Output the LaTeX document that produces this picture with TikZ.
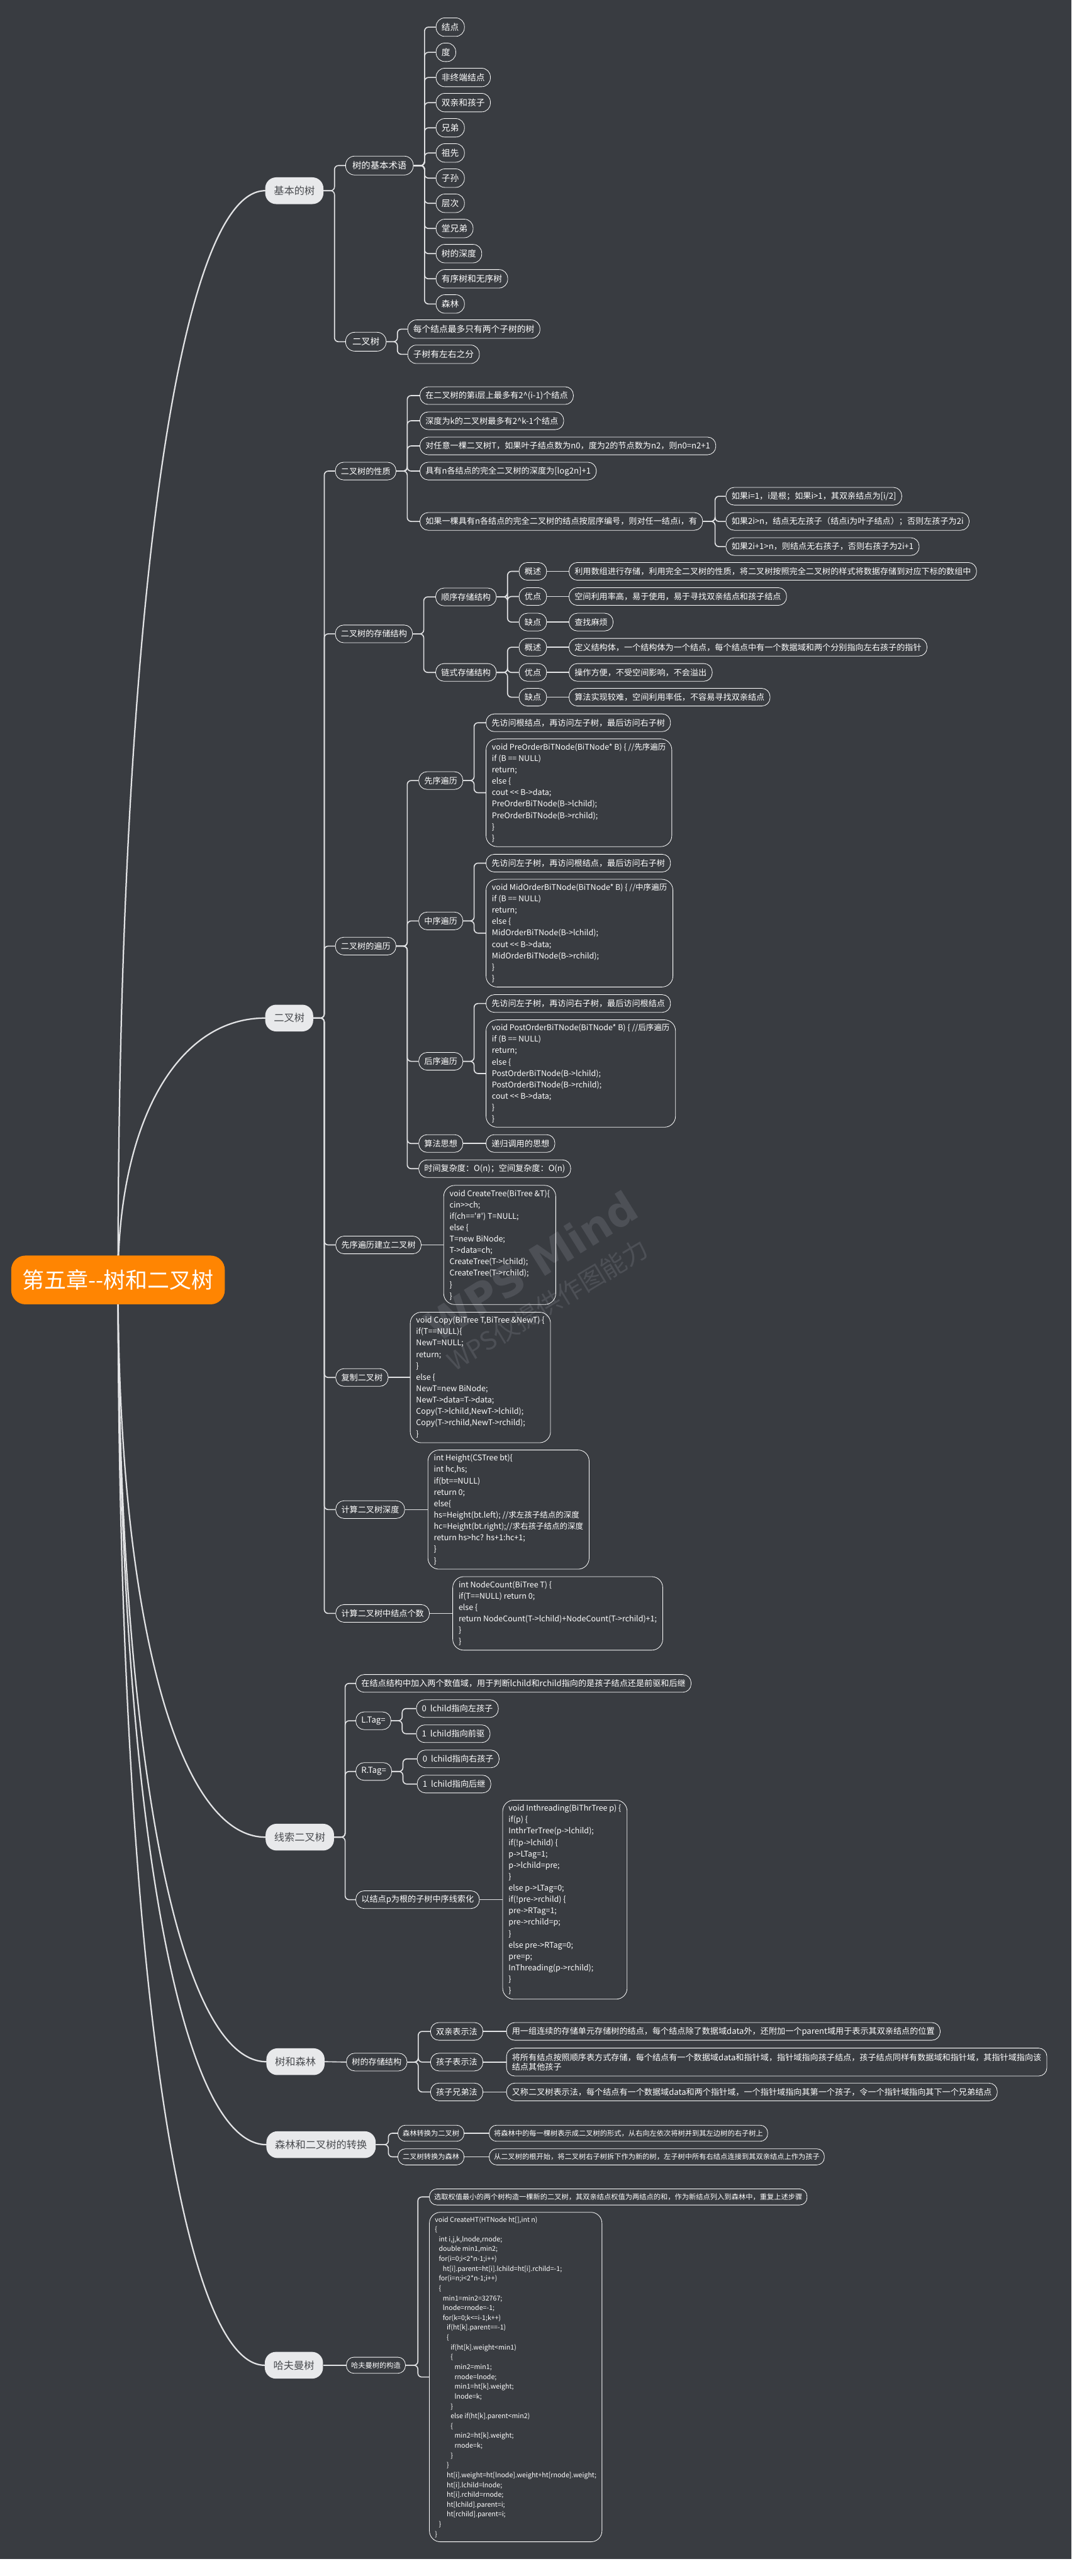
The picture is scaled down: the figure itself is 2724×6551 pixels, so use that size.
\documentclass[tikz,border=0pt]{standalone}
\usepackage{fontspec}
\usepackage{tikz}
\usetikzlibrary{calc,positioning}
\newfontfamily\mapfont{Noto Sans CJK SC}[Ligatures=TeXOff]
\newfontfamily\markfont{DejaVu Sans}[Ligatures=TeXOff]
\definecolor{mapbg}{HTML}{393C41}
\definecolor{rootorange}{HTML}{FF8502}
\definecolor{topicfill}{HTML}{E8E9EB}
\definecolor{topictext}{HTML}{4A4C50}
\definecolor{linkgray}{HTML}{E2E3E5}
\definecolor{markgray}{HTML}{4D5056}
\pgfdeclarelayer{backdrop}
\pgfdeclarelayer{edges}
\pgfsetlayers{backdrop,edges,main}
\newcommand{\mmlink}[3][28]{\draw[link] (#2.east) -- ++(#1,0) |- (#3.west);}
\newcommand{\codeindent}[1]{\hspace*{#1pt}}

\tikzset{
  rootnode/.style={fill=rootorange, text=white, rounded corners=36pt,
    font=\mapfont\fontsize{56}{64}\selectfont, inner xsep=28pt, inner ysep=0pt,
    minimum height=124pt, minimum width=508pt, anchor=center},
  topic/.style={fill=topicfill, text=topictext, rounded corners=28pt,
    font=\mapfont\fontsize{26}{30}\selectfont, inner xsep=22pt, inner ysep=0pt,
    minimum height=68pt, anchor=west},
  leaf/.style={draw=white, line width=1.3pt, text=white, rounded corners=21pt,
    font=\mapfont\fontsize{21}{25}\selectfont, inner xsep=14pt, inner ysep=0pt,
    minimum height=45pt, anchor=west},
  subtopic/.style={leaf, rounded corners=23pt,
    font=\mapfont\fontsize{23}{28}\selectfont, inner xsep=17pt, minimum height=48pt},
  termleaf/.style={leaf, rounded corners=22pt,
    font=\mapfont\fontsize{22}{26}\selectfont, minimum height=47pt},
  smallleaf/.style={leaf, rounded corners=19pt,
    font=\mapfont\fontsize{18}{22}\selectfont, inner xsep=12pt, minimum height=41pt},
  code/.style={leaf, rounded corners=28pt, align=left,
    font=\mapfont\fontsize{20}{29}\selectfont, inner xsep=15pt},
  smallcode/.style={code, font=\mapfont\fontsize{17}{25}\selectfont, inner xsep=14pt},
  link/.style={draw=linkgray, line width=2.6pt, rounded corners=10pt},
  curve/.style={draw=linkgray, line width=3.6pt, line cap=round},
}

\begin{document}
\begin{tikzpicture}[x=1pt, y=-1pt]
    \useasboundingbox (0,0) rectangle (2724,6551);
    \begin{pgfonlayer}{backdrop}
      \fill[mapbg] (0,0) rectangle (2724,6508);
      \fill[white] (0,6508) rectangle (2724,6551);
      \node[font=\markfont\bfseries\fontsize{108}{108}\selectfont, text=markgray,
        rotate=32] (wpsmark) at (1350,3220) {WPS Mind};
      \node[font=\mapfont\fontsize{64}{64}\selectfont, text=markgray,
        rotate=31] (wpsnote) at (1392,3318) {WPS仅提供作图能力};
    \end{pgfonlayer}

    \node[rootnode] (root) at (300,3255) {第五章--树和二叉树};

    \node[topic] (basic) at (674,485) {基本的树};
    \node[topic] (bintree) at (674,2589) {二叉树};
    \node[topic] (thread) at (675,4672) {线索二叉树};
    \node[topic] (forest) at (677,5243) {树和森林};
    \node[topic] (convert) at (677,5454) {森林和二叉树的转换};
    \node[topic] (huff) at (673,6015) {哈夫曼树};
    \begin{pgfonlayer}{edges}
      \foreach \topicname in {basic,bintree,thread,forest,convert,huff} {
        \draw[curve] (root.center)
          .. controls ($(root.center)!0.6!(root.center |- \topicname.west)$)
          and ($(\topicname.west)!0.6!(root.center |- \topicname.west)$)
          .. (\topicname.west);
      }
    \end{pgfonlayer}

    \node[subtopic] (terms) at (878,421) {树的基本术语};
    \node[subtopic] (btdef) at (878,869) {二叉树};
    \mmlink{basic}{terms}
    \mmlink{basic}{btdef}
    \foreach \term [count=\k from 0] in {结点,度,非终端结点,双亲和孩子,兄弟,祖先,
        子孙,层次,堂兄弟,树的深度,有序树和无序树,森林} {
      \node[termleaf] (term\k) at (1108,{69+64*\k}) {\term};
      \mmlink{terms}{term\k}
    }
    \node[termleaf] (btdefa) at (1036,837) {每个结点最多只有两个子树的树};
    \node[termleaf] (btdefb) at (1036,901) {子树有左右之分};
    \mmlink{btdef}{btdefa}
    \mmlink{btdef}{btdefb}

    \node[leaf] (props) at (852,1198) {二叉树的性质};
    \node[leaf] (propa) at (1067,1006) {在二叉树的第i层上最多有2\textasciicircum(i-1)个结点};
    \node[leaf] (propb) at (1067,1070) {深度为k的二叉树最多有2\textasciicircum k-1个结点};
    \node[leaf] (propc) at (1067,1134)
      {对任意一棵二叉树T，如果叶子结点数为n0，度为2的节点数为n2，则n0=n2+1};
    \node[leaf] (propd) at (1067,1198) {具有n各结点的完全二叉树的深度为[log2n]+1};
    \node[leaf] (prope) at (1067,1326)
      {如果一棵具有n各结点的完全二叉树的结点按层序编号，则对任一结点i，有};
    \node[leaf] (propea) at (1845,1262) {如果i=1，i是根；如果i>1，其双亲结点为[i/2]};
    \node[leaf] (propeb) at (1845,1326)
      {如果2i>n，结点无左孩子（结点i为叶子结点）；否则左孩子为2i};
    \node[leaf] (propec) at (1845,1390) {如果2i+1>n，则结点无右孩子，否则右孩子为2i+1};
    \foreach \prop in {propa,propb,propc,propd,prope} {
      \mmlink{props}{\prop}
    }
    \foreach \prop in {propea,propeb,propec} {
      \mmlink[31]{prope}{\prop}
    }

    \node[leaf] (storage) at (852,1612) {二叉树的存储结构};
    \node[leaf] (seqstore) at (1107,1518) {顺序存储结构};
    \node[leaf] (linkstore) at (1107,1710) {链式存储结构};
    \mmlink{storage}{seqstore}
    \mmlink{storage}{linkstore}
    \node[leaf] (seqsum) at (1319,1453) {概述};
    \node[leaf] (seqpro) at (1319,1517) {优点};
    \node[leaf] (seqcon) at (1319,1582) {缺点};
    \node[leaf] (linksum) at (1319,1646) {概述};
    \node[leaf] (linkpro) at (1319,1710) {优点};
    \node[leaf] (linkcon) at (1319,1773) {缺点};
    \node[leaf] (seqsumtext) at (1446,1453)
      {利用数组进行存储，利用完全二叉树的性质，将二叉树按照完全二叉树的样式将数据存储到对应下标的数组中};
    \node[leaf] (seqprotext) at (1446,1517) {空间利用率高，易于使用，易于寻找双亲结点和孩子结点};
    \node[leaf] (seqcontext) at (1446,1582) {查找麻烦};
    \node[leaf] (linksumtext) at (1446,1646)
      {定义结构体，一个结构体为一个结点，每个结点中有一个数据域和两个分别指向左右孩子的指针};
    \node[leaf] (linkprotext) at (1446,1710) {操作方便，不受空间影响，不会溢出};
    \node[leaf] (linkcontext) at (1446,1773) {算法实现较难，空间利用率低，不容易寻找双亲结点};
    \foreach \part in {sum,pro,con} {
      \mmlink{seqstore}{seq\part}
      \mmlink{linkstore}{link\part}
      \draw[link] (seq\part.east) -- (seq\part text.west);
      \draw[link] (link\part.east) -- (link\part text.west);
    }

    \node[leaf] (traverse) at (852,2406) {二叉树的遍历};
    \node[leaf] (preorder) at (1064,1985) {先序遍历};
    \node[leaf] (inorder) at (1064,2342) {中序遍历};
    \node[leaf] (postorder) at (1064,2699) {后序遍历};
    \node[leaf] (idea) at (1064,2908) {算法思想};
    \node[leaf] (cost) at (1064,2972) {时间复杂度：O(n)；空间复杂度：O(n)};
    \foreach \way in {preorder,inorder,postorder,idea,cost} {
      \mmlink{traverse}{\way}
    }
    \node[leaf] (predesc) at (1235,1838) {先访问根结点，再访问左子树，最后访问右子树};
    \node[code, minimum height=274pt] (precode) at (1235,2016)
      {void PreOrderBiTNode(BiTNode* B) \{ //先序遍历\\
       if (B == NULL)\\
       return;\\
       else \{\\
       cout << B->data;\\
       PreOrderBiTNode(B->lchild);\\
       PreOrderBiTNode(B->rchild);\\
       \}\\
       \}};
    \node[leaf] (indesc) at (1235,2195) {先访问左子树，再访问根结点，最后访问右子树};
    \node[code, minimum height=274pt] (incode) at (1235,2373)
      {void MidOrderBiTNode(BiTNode* B) \{ //中序遍历\\
       if (B == NULL)\\
       return;\\
       else \{\\
       MidOrderBiTNode(B->lchild);\\
       cout << B->data;\\
       MidOrderBiTNode(B->rchild);\\
       \}\\
       \}};
    \node[leaf] (postdesc) at (1235,2552) {先访问左子树，再访问右子树，最后访问根结点};
    \node[code, minimum height=273pt] (postcode) at (1235,2730)
      {void PostOrderBiTNode(BiTNode* B) \{ //后序遍历\\
       if (B == NULL)\\
       return;\\
       else \{\\
       PostOrderBiTNode(B->lchild);\\
       PostOrderBiTNode(B->rchild);\\
       cout << B->data;\\
       \}\\
       \}};
    \mmlink{preorder}{predesc}
    \mmlink{preorder}{precode}
    \mmlink{inorder}{indesc}
    \mmlink{inorder}{incode}
    \mmlink{postorder}{postdesc}
    \mmlink{postorder}{postcode}
    \node[leaf] (ideatext) at (1235,2908) {递归调用的思想};
    \draw[link] (idea.east) -- (ideatext.west);

    \node[leaf] (createnode) at (853,3166) {先序遍历建立二叉树};
    \node[code, minimum height=303pt, right=56pt of createnode] (createcode)
      {void CreateTree(BiTree \&T)\{\\
       cin>>ch;\\
       if(ch=='\#') T=NULL;\\
       else \{\\
       T=new BiNode;\\
       T->data=ch;\\
       CreateTree(T->lchild);\\
       CreateTree(T->rchild);\\
       \}\\
       \}};
    \node[leaf] (copynode) at (853,3503) {复制二叉树};
    \node[code, minimum height=332pt, right=55pt of copynode] (copycode)
      {void Copy(BiTree T,BiTree \&NewT) \{\\
       if(T==NULL)\{\\
       NewT=NULL;\\
       return;\\
       \}\\
       else \{\\
       NewT=new BiNode;\\
       NewT->data=T->data;\\
       Copy(T->lchild,NewT->lchild);\\
       Copy(T->rchild,NewT->rchild);\\
       \}};
    \node[leaf] (depthnode) at (853,3839) {计算二叉树深度};
    \node[code, minimum height=303pt, right=58pt of depthnode] (depthcode)
      {int Height(CSTree bt)\{\\
       int hc,hs;\\
       if(bt==NULL)\\
       return 0;\\
       else\{\\
       hs=Height(bt.left); //求左孩子结点的深度\\
       hc=Height(bt.right);//求右孩子结点的深度\\
       return hs>hc? hs+1:hc+1;\\
       \}\\
       \}};
    \node[leaf] (countnode) at (853,4103) {计算二叉树中结点个数};
    \node[code, minimum height=187pt, right=58pt of countnode] (countcode)
      {int NodeCount(BiTree T) \{\\
       if(T==NULL) return 0;\\
       else \{\\
       return NodeCount(T->lchild)+NodeCount(T->rchild)+1;\\
       \}\\
       \}};
    \foreach \job in {create,copy,depth,count} {
      \draw[link] (\job node.east) -- (\job code.west);
    }
    \foreach \part in {props,storage,traverse,createnode,copynode,depthnode,countnode} {
      \mmlink{bintree}{\part}
    }

    \node[leaf] (threaddesc) at (904,4281)
      {在结点结构中加入两个数值域，用于判断lchild和rchild指向的是孩子结点还是前驱和后继};
    \node[leaf] (ltag) at (904,4376) {L.Tag=};
    \node[leaf] (ltagzero) at (1058,4345) {0~~lchild指向左孩子};
    \node[leaf] (ltagone) at (1058,4409) {1~~lchild指向前驱};
    \node[leaf] (rtag) at (904,4505) {R.Tag=};
    \node[leaf] (rtagzero) at (1060,4473) {0~~lchild指向右孩子};
    \node[leaf] (rtagone) at (1060,4537) {1~~lchild指向后继};
    \node[leaf] (inthread) at (904,4831) {以结点p为根的子树中序线索化};
    \node[code, minimum height=506pt, right=58pt of inthread] (inthreadcode)
      {void Inthreading(BiThrTree p) \{\\
       if(p) \{\\
       InthrTerTree(p->lchild);\\
       if(!p->lchild) \{\\
       p->LTag=1;\\
       p->lchild=pre;\\
       \}\\
       else p->LTag=0;\\
       if(!pre->rchild) \{\\
       pre->RTag=1;\\
       pre->rchild=p;\\
       \}\\
       else pre->RTag=0;\\
       pre=p;\\
       InThreading(p->rchild);\\
       \}\\
       \}};
    \foreach \part in {threaddesc,ltag,rtag,inthread} {
      \mmlink{thread}{\part}
    }
    \mmlink{ltag}{ltagzero}
    \mmlink{ltag}{ltagone}
    \mmlink{rtag}{rtagzero}
    \mmlink{rtag}{rtagone}
    \draw[link] (inthread.east) -- (inthreadcode.west);

    \node[leaf] (treestore) at (880,5244) {树的存储结构};
    \draw[link] (forest.east) -- (treestore.west);
    \node[leaf] (parentrep) at (1094,5166) {双亲表示法};
    \node[leaf] (childrep) at (1094,5244) {孩子表示法};
    \node[leaf] (siblingrep) at (1094,5320) {孩子兄弟法};
    \node[leaf] (parentreptext) at (1287,5166)
      {用一组连续的存储单元存储树的结点，每个结点除了数据域data外，还附加一个parent域用于表示其双亲结点的位置};
    \node[leaf, align=left, minimum height=71pt] (childreptext) at (1287,5244)
      {将所有结点按照顺序表方式存储，每个结点有一个数据域data和指针域，指针域指向孩子结点，孩子结点同样有数据域和指针域，其指针域指向该\\
       结点其他孩子};
    \node[leaf] (siblingreptext) at (1287,5320)
      {又称二叉树表示法，每个结点有一个数据域data和两个指针域，一个指针域指向其第一个孩子，令一个指针域指向其下一个兄弟结点};
    \foreach \rep in {parentrep,childrep,siblingrep} {
      \mmlink{treestore}{\rep}
      \draw[link] (\rep.east) -- (\rep text.west);
    }

    \node[smallleaf] (foresttobin) at (1011,5425) {森林转换为二叉树};
    \node[smallleaf] (bintoforest) at (1011,5485) {二叉树转换为森林};
    \node[smallleaf] (foresttobintext) at (1243,5425)
      {将森林中的每一棵树表示成二叉树的形式，从右向左依次将树并到其左边树的右子树上};
    \node[smallleaf] (bintoforesttext) at (1243,5485)
      {从二叉树的根开始，将二叉树右子树拆下作为新的树，左子树中所有右结点连接到其双亲结点上作为孩子};
    \mmlink[32]{convert}{foresttobin}
    \mmlink[32]{convert}{bintoforest}
    \draw[link] (foresttobin.east) -- (foresttobintext.west);
    \draw[link] (bintoforest.east) -- (bintoforesttext.west);

    \node[smallleaf] (huffbuild) at (880,6015) {哈夫曼树的构造};
    \draw[link] (huff.east) -- (huffbuild.west);
    \node[smallleaf] (huffdesc) at (1091,5587)
      {选取权值最小的两个树构造一棵新的二叉树，其双亲结点权值为两结点的和，作为新结点列入到森林中，重复上述步骤};
    \node[smallcode, minimum height=838pt] (huffcode) at (1091,6045)
      {void CreateHT(HTNode ht[],int n)\\
       \{\\
       \codeindent{10}int i,j,k,lnode,rnode;\\
       \codeindent{10}double min1,min2;\\
       \codeindent{10}for(i=0;i<2*n-1;i++)\\
       \codeindent{20}ht[i].parent=ht[i].lchild=ht[i].rchild=-1;\\
       \codeindent{10}for(i=n;i<2*n-1;i++)\\
       \codeindent{10}\{\\
       \codeindent{20}min1=min2=32767;\\
       \codeindent{20}lnode=rnode=-1;\\
       \codeindent{20}for(k=0;k<=i-1;k++)\\
       \codeindent{30}if(ht[k].parent==-1)\\
       \codeindent{30}\{\\
       \codeindent{40}if(ht[k].weight<min1)\\
       \codeindent{40}\{\\
       \codeindent{50}min2=min1;\\
       \codeindent{50}rnode=lnode;\\
       \codeindent{50}min1=ht[k].weight;\\
       \codeindent{50}lnode=k;\\
       \codeindent{40}\}\\
       \codeindent{40}else if(ht[k].parent<min2)\\
       \codeindent{40}\{\\
       \codeindent{50}min2=ht[k].weight;\\
       \codeindent{50}rnode=k;\\
       \codeindent{40}\}\\
       \codeindent{30}\}\\
       \codeindent{30}ht[i].weight=ht[lnode].weight+ht[rnode].weight;\\
       \codeindent{30}ht[i].lchild=lnode;\\
       \codeindent{30}ht[i].rchild=rnode;\\
       \codeindent{30}ht[lchild].parent=i;\\
       \codeindent{30}ht[rchild].parent=i;\\
       \codeindent{10}\}\\
       \}};
    \mmlink[31]{huffbuild}{huffdesc}
    \mmlink[31]{huffbuild}{huffcode}
\end{tikzpicture}
\end{document}
